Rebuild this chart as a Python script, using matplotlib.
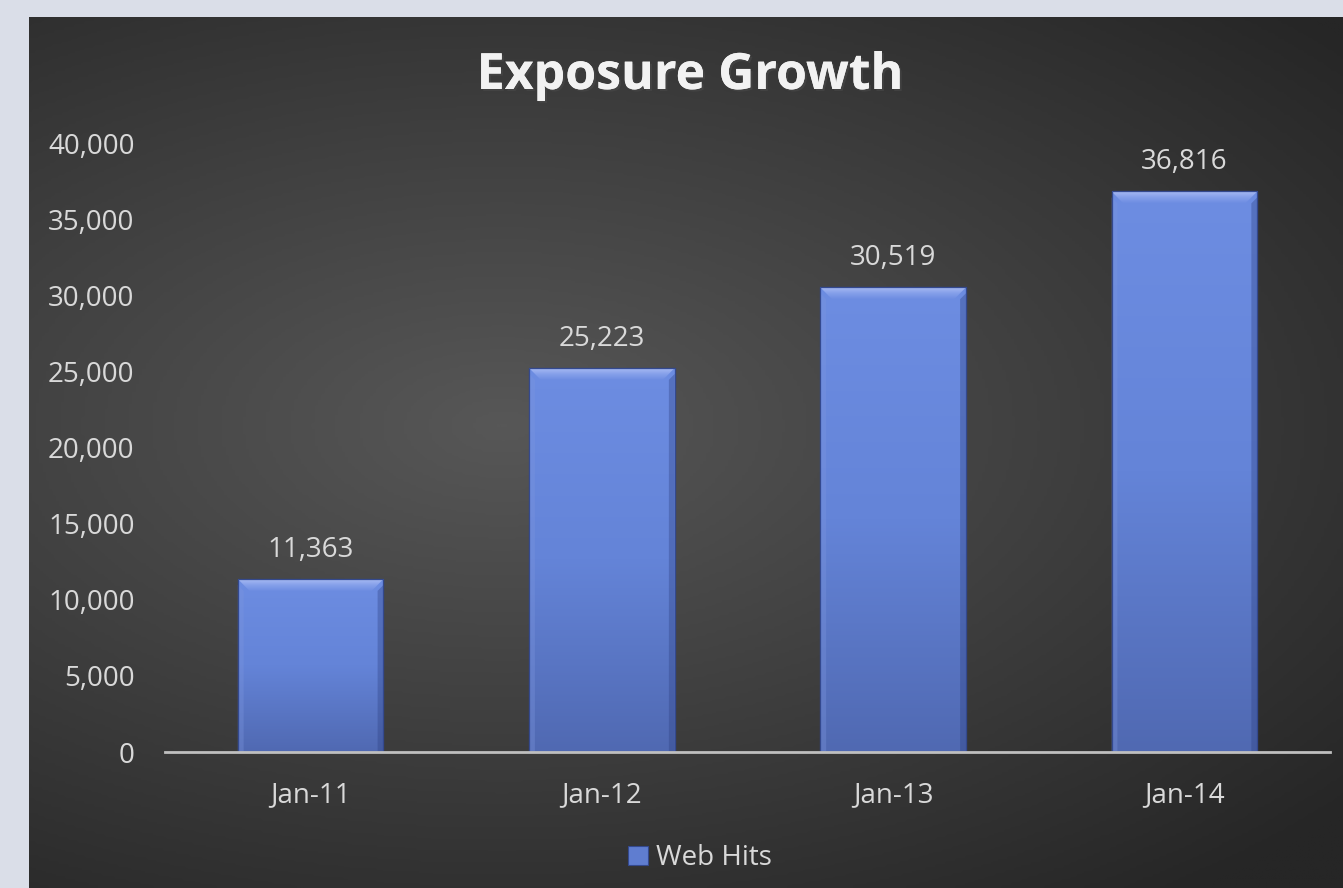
import numpy as np
import matplotlib.pyplot as plt
import matplotlib.patheffects as pe
from matplotlib.ticker import FuncFormatter
from matplotlib.colors import LinearSegmentedColormap

# data
months = ['Jan-11', 'Jan-12', 'Jan-13', 'Jan-14']
web_hits = [11363, 25223, 30519, 36816]
y_ticks = [0, 5000, 10000, 15000, 20000, 25000, 30000, 35000, 40000]

plt.rcParams['font.family'] = ['Open Sans', 'DejaVu Sans']

fig = plt.figure(figsize=(13.43, 8.88), dpi=100)
fig.patch.set_facecolor('#dadee8')

# dark panel with radial gradient
bg = fig.add_axes([29 / 1343, 0, 1 - 29 / 1343, 1 - 17 / 888])
bg.set_axis_off()
xx, yy = np.meshgrid(np.linspace(0, 1, 400), np.linspace(0, 1, 300))
r = np.sqrt(((xx - 0.36) / 1.0) ** 2 + ((yy - 0.47) / 0.8) ** 2)
r = np.clip(r / 0.85, 0, 1)
bg_cmap = LinearSegmentedColormap.from_list('bg', ['#575757', '#3f3f3f', '#262626'])
bg.imshow(r, cmap=bg_cmap, aspect='auto', extent=[0, 1, 0, 1], origin='upper')
bg.set_xlim(0, 1)
bg.set_ylim(0, 1)

ax = fig.add_axes([165 / 1343, 1 - 752 / 888, 1165 / 1343, 609 / 888])
ax.set_facecolor('none')
x = np.arange(len(months))
bars = ax.bar(x, web_hits, width=0.5, color='#5f7dd0', edgecolor='#34498e',
              linewidth=0.8, zorder=2, label='Web Hits')

bar_cmap = LinearSegmentedColormap.from_list('bar', ['#6d8de2', '#6484d8', '#5069b2'])
bev_cmap = LinearSegmentedColormap.from_list('bev', ['#a8bbf3', '#86a0ea', '#6d8de2'])
grad = np.linspace(0, 1, 256).reshape(-1, 1)
bev_h = 780   # bevel height in data units (~12 px)
bev_w = 0.04  # bevel corner width in category units
for b in bars:
    x0, w, h = b.get_x(), b.get_width(), b.get_height()
    im = ax.imshow(grad, cmap=bar_cmap, aspect='auto', extent=[x0, x0 + w, 0, h],
                   origin='upper', zorder=2.5)
    im.set_clip_path(b)
    # top bevel
    top = ax.fill([x0, x0 + w, x0 + w - bev_w, x0 + bev_w], [h, h, h - bev_h, h - bev_h],
                  color='none', lw=0, zorder=3)[0]
    im2 = ax.imshow(grad, cmap=bev_cmap, aspect='auto', extent=[x0, x0 + w, h - bev_h, h],
                    origin='upper', zorder=3)
    im2.set_clip_path(top)
    # side shading
    ax.fill([x0, x0 + bev_w * 0.5, x0 + bev_w * 0.5, x0], [h - bev_h * 0.5, h - bev_h, 0, 0],
            color='#7d96de', alpha=0.35, lw=0, zorder=3)
    ax.fill([x0 + w, x0 + w - bev_w * 0.5, x0 + w - bev_w * 0.5, x0 + w],
            [h - bev_h * 0.5, h - bev_h, 0, 0], color='#2c3f80', alpha=0.35, lw=0, zorder=3)
    ax.add_patch(plt.Rectangle((x0, 0), w, h, fill=False, ec='#34498e', lw=0.9, zorder=3.5))

ax.set_xlim(-0.5, len(months) - 0.5)
ax.set_ylim(0, 40000)
ax.set_yticks(y_ticks)
ax.yaxis.set_major_formatter(FuncFormatter(lambda v, p: f'{int(v):,}'))
ax.set_xticks(x)
ax.set_xticklabels(months)
ax.tick_params(axis='both', length=0, colors='#d9d9d9', labelsize=20)
ax.tick_params(axis='x', pad=21)
ax.tick_params(axis='y', pad=22)
for s in ['top', 'right', 'left']:
    ax.spines[s].set_visible(False)
ax.spines['bottom'].set_color('#bfbfbf')
ax.spines['bottom'].set_linewidth(2)
ax.spines['bottom'].set_zorder(4)

for b, v in zip(bars, web_hits):
    ax.annotate(f'{v:,}', (b.get_x() + b.get_width() / 2, v), xytext=(0, 11),
                textcoords='offset points', ha='center', va='bottom',
                color='#d9d9d9', fontsize=20)

fig.text(690 / 1343, 1 - 76 / 888, 'Exposure Growth', ha='center', va='center',
         color='#f2f2f2', fontsize=36, fontweight='bold',
         path_effects=[pe.withSimplePatchShadow(offset=(1.5, -1.5), alpha=0.6), pe.Normal()])

handles, labels = ax.get_legend_handles_labels()
leg = fig.legend(handles, labels, loc='center', bbox_to_anchor=(700 / 1343, 1 - 858 / 888),
                 frameon=False, fontsize=20, labelcolor='#d9d9d9', handlelength=0.7,
                 handleheight=0.7, handletextpad=0.3)

fig.savefig('out.png', dpi=100, facecolor=fig.get_facecolor())
